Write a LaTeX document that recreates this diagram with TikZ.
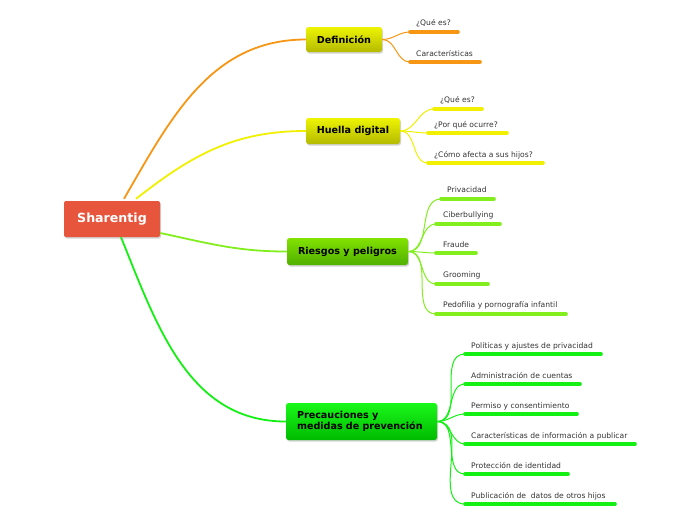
\documentclass[tikz,border=0pt]{standalone}
\usepackage{fontspec}
\setmainfont{DejaVu Sans}
\usetikzlibrary{shadows}
\definecolor{cOr}{RGB}{247,150,20}
\definecolor{cYe}{RGB}{240,240,0}
\definecolor{cLg}{RGB}{130,238,30}
\definecolor{cGr}{RGB}{20,240,20}
\definecolor{cRoot}{RGB}{232,85,61}
\definecolor{cTxt}{RGB}{50,50,50}
\tikzset{
  mainbox/.style={rounded corners=2.5pt, font=\bfseries\fontsize{9.6}{11.5}\selectfont, text=black, inner sep=0pt,
     drop shadow={shadow xshift=1pt, shadow yshift=-1.5pt, opacity=0.35}},
  ybox/.style={mainbox, top color={rgb,255:red,238;green,244;blue,0}, bottom color={rgb,255:red,180;green,186;blue,0}},
  lgbox/.style={mainbox, top color={rgb,255:red,130;green,226;blue,0}, bottom color={rgb,255:red,80;green,176;blue,0}},
  gbox/.style={mainbox, top color={rgb,255:red,26;green,248;blue,26}, bottom color={rgb,255:red,0;green,186;blue,0}},
  lbl/.style={font=\fontsize{7.6}{9}\selectfont, text=cTxt, anchor=west, inner sep=0pt, yshift=-1pt},
  ul/.style={line width=3.6pt, line cap=round},
  br/.style={line width=1pt},
  rootln/.style={line width=1.8pt},
}
\begin{document}
\begin{tikzpicture}[x=1pt,y=1pt]
\useasboundingbox (0,0) rectangle (696,-520);
% root
\node[rounded corners=2pt, fill=cRoot, minimum width=96, minimum height=36, inner sep=0pt,
      text=white, font=\bfseries\fontsize{12.6}{14}\selectfont,
      drop shadow={shadow xshift=1pt, shadow yshift=-1.5pt, opacity=0.35}] (root) at (112,-219) {Sharentig};
% main nodes
\node[ybox, minimum width=76, minimum height=25] (def) at (344,-39.5) {Definición};
\node[ybox, minimum width=94, minimum height=26] (hue) at (353,-131) {Huella digital};
\node[lgbox, minimum width=121, minimum height=27] (rie) at (347.5,-251.5) {Riesgos y peligros};
\node[gbox, minimum width=151, minimum height=37, text width=129, inner xsep=11, align=left] (pre) at (361.5,-421.5) {Precauciones y\\medidas de prevención};
% root connectors
\draw[rootln, cOr] ([xshift=12pt,yshift=2pt]root.north) to[out=60,in=180] (def.west);
\draw[rootln, cYe] ([xshift=24pt,yshift=2pt]root.north) to[out=38,in=180] (hue.west);
\draw[rootln, cLg] ([yshift=-14pt]root.east) to[out=-12,in=180] (rie.west);
\draw[rootln, cGr] ([xshift=9pt]root.south) to[out=-68,in=180] (pre.west);

% Definicion children
\coordinate (d1s) at (410,-32); \coordinate (d1e) at (458,-32);
\coordinate (d2s) at (410,-62); \coordinate (d2e) at (480,-62);
\node[lbl] (d1) at (416,-22) {¿Qué es?};
\node[lbl] (d2) at (416,-53) {Características};
\foreach \c in {d1,d2}{
  \draw[br, cOr] (def.east) to[out=0,in=180] (\c s);
  \draw[ul, cOr] (\c s) -- (\c e);
}
% Huella children
\coordinate (h1s) at (434,-109); \coordinate (h1e) at (482,-109);
\coordinate (h2s) at (428,-133); \coordinate (h2e) at (507,-133);
\coordinate (h3s) at (428,-163); \coordinate (h3e) at (543,-163);
\node[lbl] (h1) at (440,-99) {¿Qué es?};
\node[lbl] (h2) at (434,-124) {¿Por qué ocurre?};
\node[lbl] (h3) at (434,-154) {¿Cómo afecta a sus hijos?};
\foreach \c in {h1,h2,h3}{
  \draw[br, cYe] (hue.east) to[out=0,in=180] (\c s);
  \draw[ul, cYe] (\c s) -- (\c e);
}
% Riesgos children
\coordinate (r1s) at (441,-199); \coordinate (r1e) at (494,-199);
\coordinate (r2s) at (436,-224); \coordinate (r2e) at (500,-224);
\coordinate (r3s) at (436,-253); \coordinate (r3e) at (476,-253);
\coordinate (r4s) at (436,-284); \coordinate (r4e) at (488,-284);
\coordinate (r5s) at (436,-314); \coordinate (r5e) at (566,-314);
\node[lbl] (r1) at (447,-189) {Privacidad};
\node[lbl] (r2) at (443,-214) {Ciberbullying};
\node[lbl] (r3) at (443,-244) {Fraude};
\node[lbl] (r4) at (443,-274) {Grooming};
\node[lbl] (r5) at (443,-304) {Pedofilia y pornografía infantil};
\foreach \c in {r1,r2,r3,r4,r5}{
  \draw[br, cLg] (rie.east) to[out=0,in=180] (\c s);
  \draw[ul, cLg] (\c s) -- (\c e);
}
% Precauciones children
\coordinate (p1s) at (465,-354); \coordinate (p1e) at (601,-354);
\coordinate (p2s) at (465,-384); \coordinate (p2e) at (580,-384);
\coordinate (p3s) at (465,-414); \coordinate (p3e) at (577,-414);
\coordinate (p4s) at (465,-444); \coordinate (p4e) at (635,-444);
\coordinate (p5s) at (465,-474); \coordinate (p5e) at (568,-474);
\coordinate (p6s) at (465,-504); \coordinate (p6e) at (615,-504);
\node[lbl] (p1) at (471,-345) {Políticas y ajustes de privacidad};
\node[lbl] (p2) at (471,-375) {Administración de cuentas};
\node[lbl] (p3) at (471,-405) {Permiso y consentimiento};
\node[lbl] (p4) at (471,-435) {Características de información a publicar};
\node[lbl] (p5) at (471,-465) {Protección de identidad};
\node[lbl] (p6) at (471,-495) {Publicación de\ \ datos de otros hijos};
\foreach \c in {p1,p2,p3,p4,p5,p6}{
  \draw[br, cGr] (pre.east) to[out=0,in=180] (\c s);
  \draw[ul, cGr] (\c s) -- (\c e);
}
\end{tikzpicture}
\end{document}
